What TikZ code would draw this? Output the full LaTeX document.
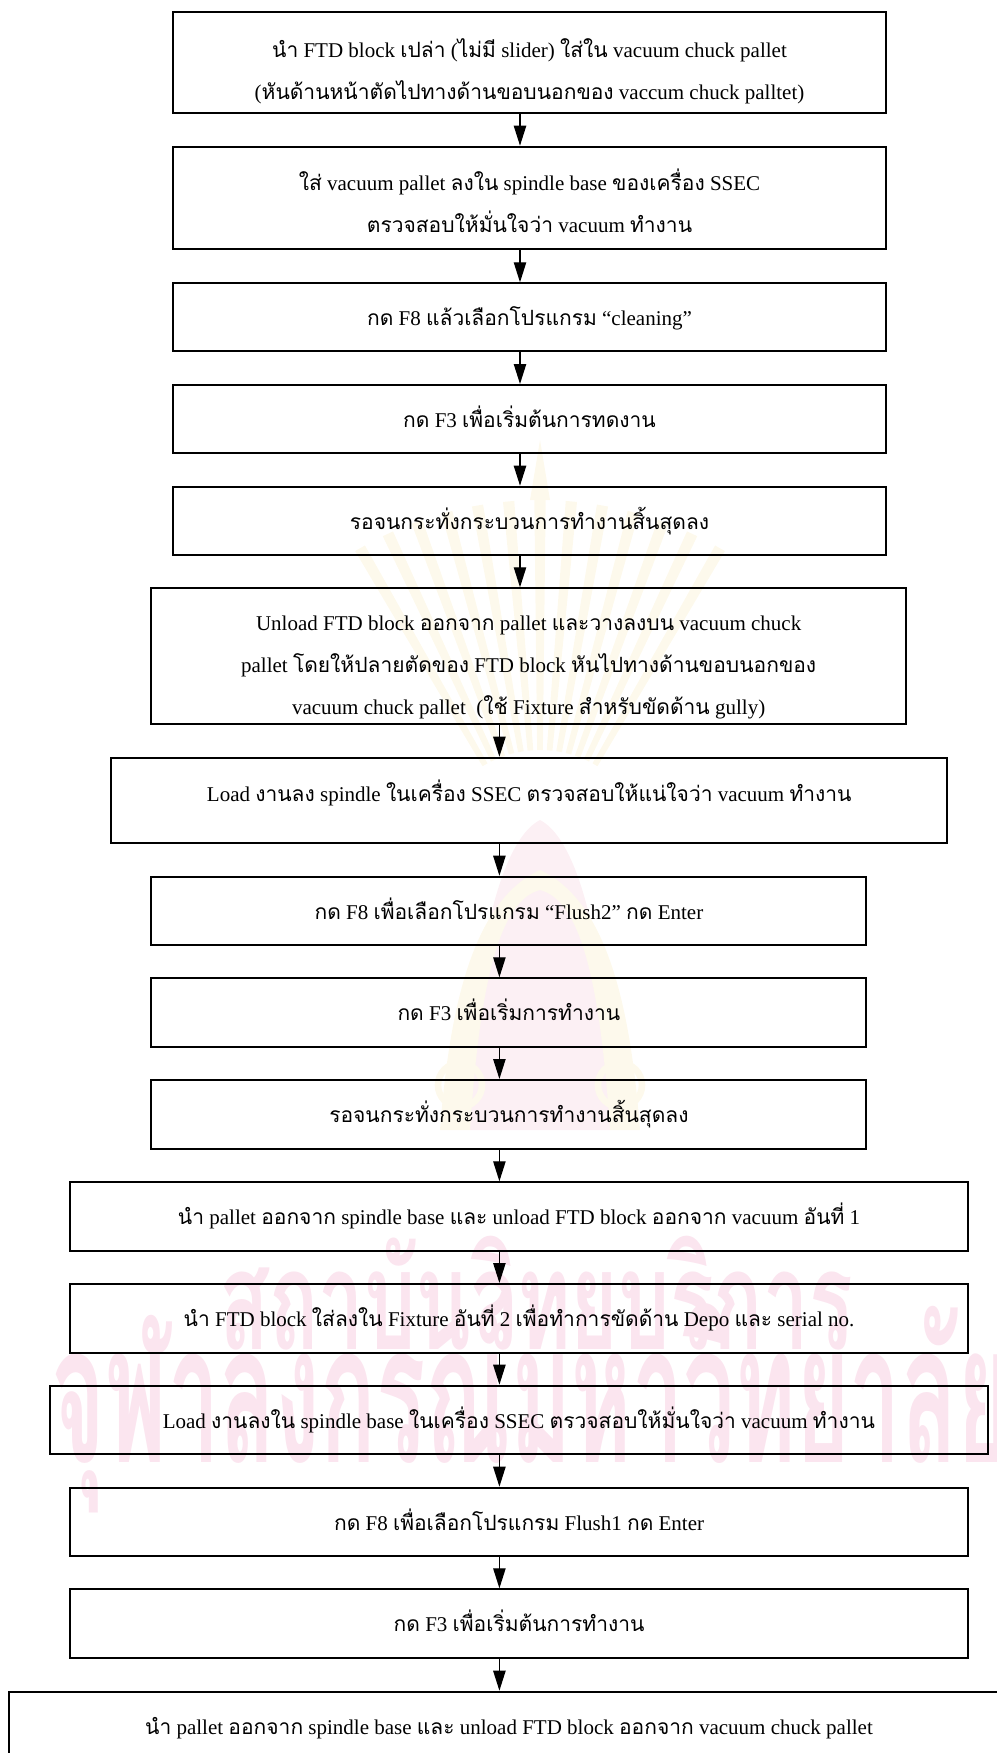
\documentclass[tikz,border=0pt]{standalone}
\usepackage{fontspec}
\usepackage{graphicx}
\usetikzlibrary{arrows.meta,calc}
\setmainfont{Liberation Serif}
\newfontfamily\thaifont[Script=Thai]{Loma}
\newcommand\tha[1]{{\thaifont #1}}
\definecolor{wmpink}{RGB}{251,229,239}
\definecolor{emcream}{RGB}{253,249,236}
\definecolor{empink}{RGB}{252,240,244}

% one process step, given by its corners (x1,y1) and (x2,y2) in pixel units;
% the optional argument lowers (negative) or raises the text inside the frame
\newcommand\stepnode[7][0pt]{%
  \node[stepbox, minimum width={(#5-#3)*0.6pt}, minimum height={(#6-#4)*0.6pt}]
    (#2) at ({(#3+#5)/2},{(#4+#6)/2})
    {\raisebox{#1}[\height][\depth]{\begin{tabular}{@{}c@{}}#7\end{tabular}}};}

\tikzset{
  stepbox/.style={draw=black, line width=1.2pt, fill=none, align=center,
    inner sep=0pt, font=\fontsize{12.6}{25.2}\selectfont},
  flow/.style={line width=0.8pt, -{Triangle[length=12pt, width=7.4pt]}},
  wmark/.style={anchor=base west, inner sep=0pt, text=wmpink},
}

\begin{document}
\begin{tikzpicture}[x=0.6pt, y=-0.6pt]
\useasboundingbox (0,0) rectangle (997,1753);
\clip (0,0) rectangle (997,1753);

% faint background emblem: rays above a bell-shaped body
\coordinate (emc) at (540,860);
\foreach \a in {-60,-65,...,-120}
  \fill[emcream] ($(emc)+(\a-1.5:110)$) -- ($(emc)+(\a-0.9:360)$)
    -- ($(emc)+(\a+0.9:360)$) -- ($(emc)+(\a+1.5:110)$) -- cycle;
\fill[emcream] (540,440) -- (530,500) -- (550,500) -- cycle;
\fill[empink] (470,1130) .. controls (470,960) and (500,840) .. (540,820)
  .. controls (580,840) and (610,960) .. (610,1130) -- cycle;
\fill[emcream] (440,1130) .. controls (450,1000) and (475,900) .. (540,870)
  .. controls (605,900) and (630,1000) .. (640,1130) -- (610,1130)
  .. controls (600,980) and (580,900) .. (540,890)
  .. controls (500,900) and (480,980) .. (470,1130) -- cycle;
\draw[emcream, line width=4pt] (460,1085) circle (22) (620,1085) circle (22);

% faint background lettering
\node[wmark] (wm1) at (219,1349)
  {\resizebox{380pt}{68pt}{\thaifont\bfseries สถาบันวิทยบริการ}};
\node[wmark] (wm2) at (51,1462)
  {\resizebox{576pt}{102pt}{\thaifont\bfseries จุฬาลงกรณ์มหาวิทยาลัย}};

% arrow columns
\coordinate (colA) at (520,0);
\coordinate (colB) at (499.4,0);

\stepnode[-4.2pt]{b1}{173}{12.3}{886}{113.3}{\fontsize{12.6}{27.6}\selectfont
  \tha{นำ} FTD block \tha{เปล่า} (\tha{ไม่มี} slider) \tha{ใส่ใน} vacuum chuck pallet\\
  (\tha{หันด้านหน้าตัดไปทางด้านขอบนอกของ} vaccum chuck palltet)}
\stepnode[-3pt]{b2}{173}{146.7}{886}{249.3}{\fontsize{12.6}{27.6}\selectfont
  \tha{ใส่} vacuum pallet \tha{ลงใน} spindle base \tha{ของเครื่อง} SSEC\\
  \tha{ตรวจสอบให้มั่นใจว่า} vacuum \tha{ทำงาน}}
\stepnode{b3}{173}{283.3}{886}{351}{\tha{กด} F8 \tha{แล้วเลือกโปรแกรม} “cleaning”}
\stepnode{b4}{173}{385}{886}{453.3}{\tha{กด} F3 \tha{เพื่อเริ่มต้นการทดงาน}}
\stepnode{b5}{173}{486.7}{886}{555}{\tha{รอจนกระทั่งกระบวนการทำงานสิ้นสุดลง}}
\stepnode[-4.6pt]{b6}{151.4}{588.3}{905.9}{724.3}{%
  Unload FTD block \tha{ออกจาก} pallet \tha{และวางลงบน} vacuum chuck\\
  pallet \tha{โดยให้ปลายตัดของ} FTD block \tha{หันไปทางด้านขอบนอกของ}\\
  vacuum chuck pallet\ \ (\tha{ใช้} Fixture \tha{สำหรับขัดด้าน} gully)}
\stepnode[4.6pt]{b7}{111.3}{757.7}{947.2}{843.3}{%
  Load \tha{งานลง} spindle \tha{ในเครื่อง} SSEC \tha{ตรวจสอบให้แน่ใจว่า} vacuum \tha{ทำงาน}}
\stepnode{b8}{151.4}{876.7}{866.4}{945}{\tha{กด} F8 \tha{เพื่อเลือกโปรแกรม} “Flush2” \tha{กด} Enter}
\stepnode{b9}{151.4}{978.3}{866.4}{1046.7}{\tha{กด} F3 \tha{เพื่อเริ่มการทำงาน}}
\stepnode{b10}{151.4}{1080}{866.4}{1148.7}{\tha{รอจนกระทั่งกระบวนการทำงานสิ้นสุดลง}}
\stepnode{b11}{70}{1182.3}{968.2}{1250.7}{%
  \tha{นำ} pallet \tha{ออกจาก} spindle base \tha{และ} unload FTD block \tha{ออกจาก} vacuum \tha{อันที่} 1}
\stepnode{b12}{70}{1284}{968.2}{1352.7}{%
  \tha{นำ} FTD block \tha{ใส่ลงใน} Fixture \tha{อันที่} 2 \tha{เพื่อทำการขัดด้าน} Depo \tha{และ} serial no.}
\stepnode{b13}{49.6}{1385.7}{988.1}{1454}{%
  Load \tha{งานลงใน} spindle base \tha{ในเครื่อง} SSEC \tha{ตรวจสอบให้มั่นใจว่า} vacuum \tha{ทำงาน}}
\stepnode{b14}{70}{1487.7}{968.2}{1556}{\tha{กด} F8 \tha{เพื่อเลือกโปรแกรม} Flush1 \tha{กด} Enter}
\stepnode{b15}{70}{1589.3}{968.2}{1657.7}{\tha{กด} F3 \tha{เพื่อเริ่มต้นการทำงาน}}
\stepnode{b16}{9.3}{1691.7}{1008.7}{1760.3}{%
  \tha{นำ} pallet \tha{ออกจาก} spindle base \tha{และ} unload FTD block \tha{ออกจาก} vacuum chuck pallet}

% connectors
\foreach \a/\b in {b1/b2, b2/b3, b3/b4, b4/b5, b5/b6}
  \draw[flow] (\a.south -| colA) -- (\b.north -| colA);
\foreach \a/\b in {b6/b7, b7/b8, b8/b9, b9/b10, b10/b11, b11/b12, b12/b13, b13/b14, b14/b15, b15/b16}
  \draw[flow] (\a.south -| colB) -- (\b.north -| colB);
\end{tikzpicture}
\end{document}
